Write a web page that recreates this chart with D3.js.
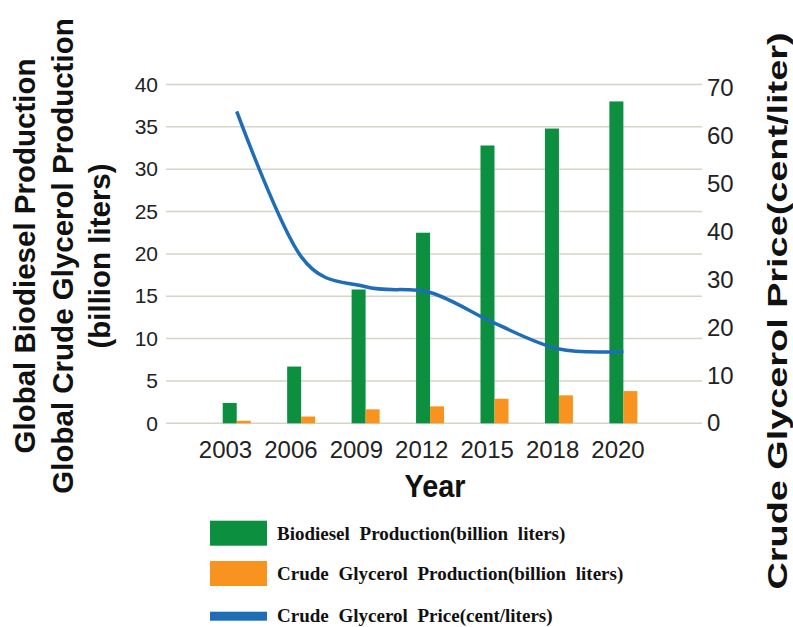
<!DOCTYPE html>
<html><head><meta charset="utf-8">
<script src="https://cdn.jsdelivr.net/npm/d3@7"></script>
<style>body{margin:0;background:#fff}</style>
</head><body><svg id="c" width="793" height="627"></svg>
<script>
const years = ["2003","2006","2009","2012","2015","2018","2020"];
const biodiesel = [2.4, 6.7, 15.8, 22.5, 32.8, 34.8, 38.0];
const glycerol = [0.3, 0.8, 1.65, 2.0, 2.9, 3.3, 3.8];
const price = [65.1, 34.8, 28.5, 27.3, 20.9, 15.5, 15.0];
const leftTicks = [0,5,10,15,20,25,30,35,40];
const rightTicks = [0,10,20,30,40,50,60,70];
const leftTitle = ["Global Biodiesel Production","Global Crude Glycerol Production","(billion liters)"];
const rightTitle = "Crude Glycerol Price(cent/liter)";
const xTitle = "Year";
const legendLabels = ["Biodiesel Production(billion liters)","Crude Glycerol Production(billion liters)","Crude Glycerol Price(cent/liters)"];

const GREEN="#0c9040", ORANGE="#f7931e", BLUE="#1f6db6", GRID="#d7d4c7";
const svg = d3.select("#c");
const sans = "'Liberation Sans', Arial, sans-serif";

const x = d3.scaleBand().domain(years).range([204.5, 655.6]).padding(0);
const bw = x.bandwidth();
const x1 = d3.scaleBand().domain(["bio","gly"]).range([bw/2-14, bw/2+14]).padding(0);
const xl = d3.scalePoint().domain(years).range([225, 617.5]);
const yL = d3.scaleLinear().domain([0,40]).range([423.3, 84.5]);
const yR = d3.scaleLinear().domain([0,70]).range([423.3, 88]);

// gridlines
svg.append("g").selectAll("line").data(leftTicks).join("line")
  .attr("x1",166).attr("x2",702)
  .attr("y1",d=>yL(d)).attr("y2",d=>yL(d))
  .attr("stroke",GRID).attr("stroke-width",1.5);

// left axis
const gl = svg.append("g").attr("transform","translate(166,0)")
  .call(d3.axisLeft(yL).tickValues(leftTicks).tickSize(0).tickPadding(8));
gl.select(".domain").remove();
gl.selectAll("text").attr("font-family",sans).attr("font-size",21).attr("fill","#222");

// right axis
const gr = svg.append("g").attr("transform","translate(702,0)")
  .call(d3.axisRight(yR).tickValues(rightTicks).tickSize(0).tickPadding(5));
gr.select(".domain").remove();
gr.selectAll("text").attr("font-family",sans).attr("font-size",24).attr("fill","#222");

// bottom axis
const gb = svg.append("g").attr("transform","translate(0,441)")
  .call(d3.axisBottom(xl).tickSize(0).tickPadding(0));
gb.select(".domain").remove();
gb.selectAll("text").attr("font-family",sans).attr("font-size",24).attr("fill","#222");

// bars
const data = years.map((y,i)=>({year:y, bio:biodiesel[i], gly:glycerol[i], price:price[i]}));
const grp = svg.append("g").selectAll("g").data(data).join("g")
  .attr("transform",d=>`translate(${x(d.year)},0)`);
grp.append("rect").attr("x",x1("bio")).attr("width",x1.bandwidth())
  .attr("y",d=>yL(d.bio)).attr("height",d=>yL(0)-yL(d.bio)).attr("fill",GREEN);
grp.append("rect").attr("x",x1("gly")).attr("width",x1.bandwidth())
  .attr("y",d=>yL(d.gly)).attr("height",d=>yL(0)-yL(d.gly)).attr("fill",ORANGE);

// price line (Excel-like smoothing)
const line = d3.line().x(d=>x(d.year)+bw/2).y(d=>yR(d.price)).curve(d3.curveCardinal.tension(0));
svg.append("path").datum(data).attr("d",line).attr("fill","none")
  .attr("stroke",BLUE).attr("stroke-width",3.5);

// left title
const lt = svg.append("g").attr("transform","rotate(-90)");
const ltY = [35, 72.5, 110];
lt.selectAll("text").data(leftTitle).join("text")
  .attr("x",-256).attr("y",(d,i)=>ltY[i]).attr("text-anchor","middle")
  .attr("font-family",sans).attr("font-weight","bold").attr("font-size",29.5).attr("fill","#111")
  .text(d=>d);

// right title
svg.append("text").attr("transform","rotate(-90)")
  .attr("x",-311).attr("y",786.5).attr("text-anchor","middle")
  .attr("font-family",sans).attr("font-weight","bold").attr("font-size",28).attr("fill","#111")
  .attr("textLength",557).attr("lengthAdjust","spacingAndGlyphs")
  .text(rightTitle);

// x title
svg.append("text").attr("x",435).attr("y",496.5).attr("text-anchor","middle")
  .attr("font-family",sans).attr("font-weight","bold").attr("font-size",32).attr("fill","#111")
  .attr("textLength",61).attr("lengthAdjust","spacingAndGlyphs")
  .text(xTitle);

// legend
const lg = svg.append("g");
const lgY = [520.7, 561];
lg.append("rect").attr("x",210).attr("y",lgY[0]).attr("width",57).attr("height",25).attr("fill",GREEN);
lg.append("rect").attr("x",210).attr("y",lgY[1]).attr("width",57).attr("height",25).attr("fill",ORANGE);
lg.append("rect").attr("x",210).attr("y",611.7).attr("width",57).attr("height",9).attr("fill",BLUE);
const lgBase = [539.5, 579.5, 622];
lg.selectAll("text").data(legendLabels).join("text")
  .attr("x",277).attr("y",(d,i)=>lgBase[i])
  .attr("font-family","'Liberation Serif','Times New Roman',serif").attr("font-weight","bold")
  .attr("font-size",19).attr("fill","#111").style("word-spacing","5px")
  .text(d=>d);
</script></body></html>
